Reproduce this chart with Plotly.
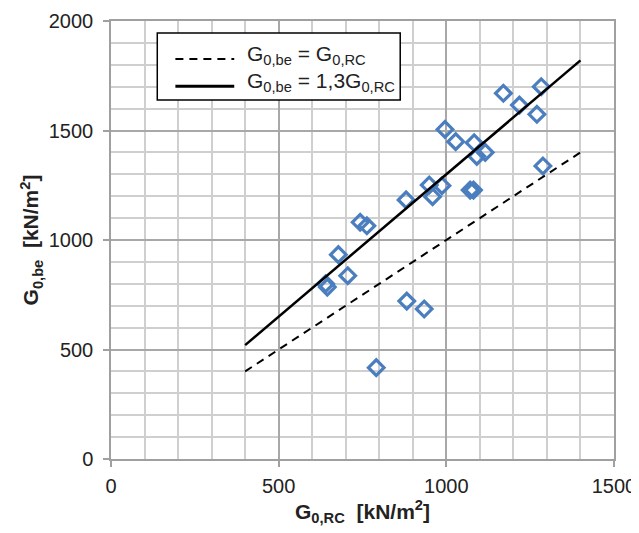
import plotly.graph_objects as go

# Measured data
g_rc = [640, 645, 678, 706, 743, 763, 880, 791, 882, 934, 949, 959, 987, 996,
        1028, 1071, 1081, 1083, 1091, 1116, 1170, 1218, 1270, 1283, 1288]
g_be = [800, 785, 933, 837, 1081, 1065, 1183, 417, 721, 685, 1251, 1198, 1248, 1505,
        1449, 1228, 1228, 1444, 1382, 1400, 1670, 1616, 1574, 1700, 1338]

line_x = [400, 1400]
ratio_equal = 1.0
ratio_fit = 1.3

x_ticks = [0, 500, 1000, 1500]
y_ticks = [0, 500, 1000, 1500, 2000]

legend_labels = ["G<sub>0,be</sub> = G<sub>0,RC</sub>",
                 "G<sub>0,be</sub> = 1,3G<sub>0,RC</sub>"]

FONT = "Liberation Sans, Arial, sans-serif"
DASH = "8px,6px"

fig = go.Figure()

fig.add_trace(go.Scatter(
    x=g_rc, y=g_be, mode="markers", showlegend=False,
    marker=dict(symbol="diamond-open", size=12, color="#4a7ebf",
                line=dict(width=3.2, color="#4a7ebf")),
))

fig.add_trace(go.Scatter(
    x=line_x, y=[v * ratio_equal for v in line_x], mode="lines",
    showlegend=False, line=dict(color="black", width=2, dash=DASH),
))
fig.add_trace(go.Scatter(
    x=line_x, y=[v * ratio_fit for v in line_x], mode="lines",
    showlegend=False, line=dict(color="black", width=2.5),
))

axis_common = dict(
    automargin=False,
    showgrid=True, gridcolor="#a8a8a8", gridwidth=1.5,
    minor=dict(dtick=100, showgrid=True, gridcolor="#cfcfcf", gridwidth=1.5),
    showline=True, linecolor="#a0a0a0", linewidth=1.5, mirror=True,
    ticks="outside", ticklen=6, tickcolor="#a0a0a0", tickwidth=1.5,
    zeroline=False,
    tickfont=dict(family=FONT, size=20, color="#222"),
)

fig.update_xaxes(range=[0, 1500], tickvals=x_ticks, ticklabelstandoff=2, **axis_common,
                 title=dict(text="<b>G<sub>0,RC</sub>  [kN/m<sup>2</sup>]</b>",
                            font=dict(family=FONT, size=21, color="#222"), standoff=0))
fig.update_yaxes(range=[0, 2000], tickvals=y_ticks, ticklabelstandoff=6, **axis_common,
                 title=dict(text="<b>G<sub>0,be</sub>  [kN/m<sup>2</sup>]</b>",
                            font=dict(family=FONT, size=21, color="#222"), standoff=4))

# Legend box (drawn manually to match the long line samples)
fig.add_shape(type="rect", xref="paper", yref="paper",
              x0=0.092, x1=0.575, y0=0.8196, y1=0.9726,
              line=dict(color="black", width=1.5), fillcolor="white", layer="above")
fig.add_shape(type="line", xref="paper", yref="paper",
              x0=0.128, x1=0.245, y0=0.913, y1=0.913,
              line=dict(color="black", width=2, dash=DASH), layer="above")
fig.add_shape(type="line", xref="paper", yref="paper",
              x0=0.128, x1=0.245, y0=0.851, y1=0.851,
              line=dict(color="black", width=3), layer="above")
for lbl, yy in zip(legend_labels, [0.922, 0.860]):
    fig.add_annotation(xref="paper", yref="paper", x=0.266, y=yy,
                       xanchor="left", yanchor="middle", showarrow=False,
                       text=lbl, font=dict(family=FONT, size=21, color="#222"))

fig.update_layout(
    width=631, height=525,
    margin=dict(l=103, r=25, t=13, b=74),
    paper_bgcolor="white", plot_bgcolor="white",
    showlegend=False,
)

fig.write_html("out.html")
